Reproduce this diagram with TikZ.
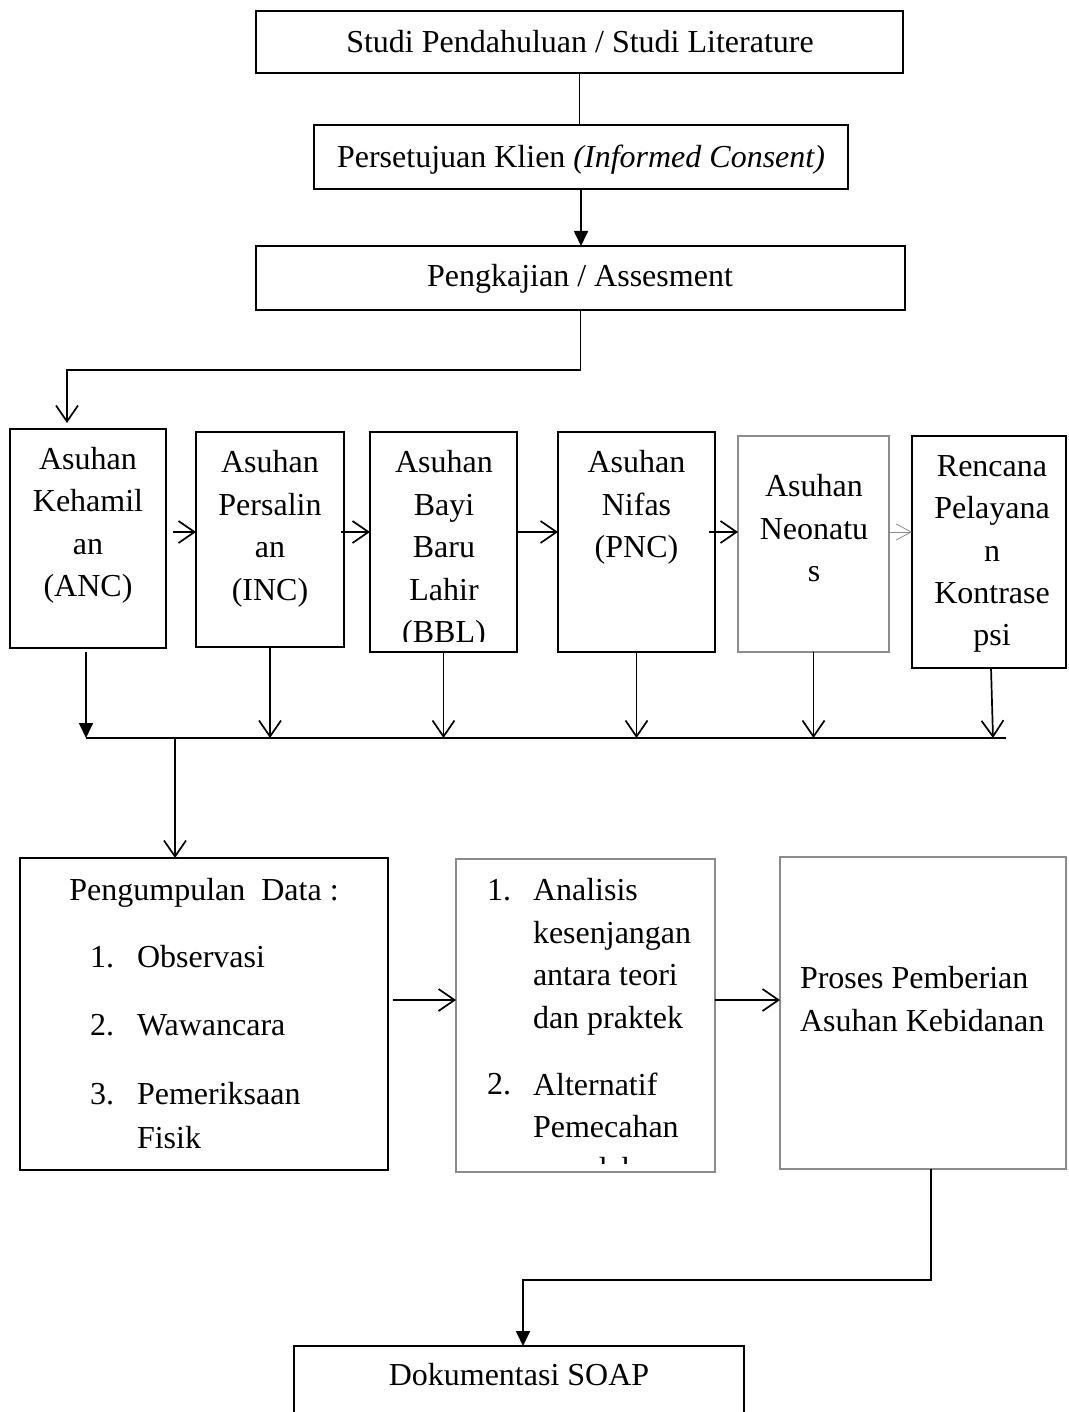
\documentclass[tikz,border=0pt]{standalone}
\usepackage{fontspec}
\setmainfont{Liberation Serif}
\usetikzlibrary{arrows.meta}
\begin{document}
\begin{tikzpicture}[x=1pt,y=-1pt,
  box/.style={draw, line width=2pt, inner sep=0pt, outer sep=0pt},
  gbox/.style={draw=black!45, line width=1.2pt, inner sep=0pt, outer sep=0pt},
  tx/.style={inner sep=0pt, outer sep=0pt, align=center, font=\fontsize{32}{42.4}\selectfont},
  txl/.style={tx, align=left},
  oarrow/.style={line width=1.7pt, -{Straight Barb[length=16pt,width=22pt,line width=1.7pt]}},
  garrow/.style={line width=0.8pt, draw=black!45, -{Straight Barb[length=15pt,width=16pt,line width=0.8pt]}},
  farrow/.style={line width=1.7pt, -{Triangle[length=15pt,width=14pt]}},
  plain/.style={line width=1.7pt}
]
\useasboundingbox (0,0) rectangle (1068,1412);
\begin{scope}
\clip (0,0) rectangle (1068,1412);

% top boxes
\node[box, minimum width=647pt, minimum height=62pt] (s1) at (579.5,42) {};
\node[tx, anchor=base] (t1) at (580,52.6) {Studi Pendahuluan / Studi Literature};
\node[box, minimum width=534pt, minimum height=64pt] (s2) at (581,157) {};
\node[tx, anchor=base] (t2) at (581,167.6) {Persetujuan Klien {\itshape (Informed Consent)}};
\node[box, minimum width=649pt, minimum height=64pt] (s3) at (580.5,278) {};
\node[tx, anchor=base] (t3) at (580,286.6) {Pengkajian / Assesment};

% row of care boxes
\node[box, minimum width=156pt, minimum height=219pt] (b1) at (88,538.5) {};
\node[tx, anchor=north] (tb1) at (88,447) {Asuhan\\Kehamil\\an\\(ANC)};
\node[box, minimum width=148pt, minimum height=215pt] (b2) at (270,539.5) {};
\node[tx, anchor=north] (tb2) at (270,450.6) {Asuhan\\Persalin\\an\\(INC)};
\node[box, minimum width=147pt, minimum height=220pt] (b3) at (443.5,542) {};
\begin{scope}
\clip (370,432) rectangle (517,641);
\node[tx, anchor=north] (tb3) at (444,450.6) {Asuhan\\Bayi\\Baru\\Lahir\\(BBL)};
\end{scope}
\node[box, minimum width=157pt, minimum height=220pt] (b4) at (636.5,542) {};
\node[tx, anchor=north] (tb4) at (636.5,450.6) {Asuhan\\Nifas\\(PNC)};
\node[gbox, minimum width=151pt, minimum height=216pt] (b5) at (813.5,544) {};
\node[tx, anchor=north] (tb5) at (814,474.6) {Asuhan\\Neonatu\\s};
\node[box, minimum width=154pt, minimum height=232pt] (b6) at (989,552) {};
\node[tx, anchor=north] (tb6) at (992,455.4) {Rencana\\Pelayana\\n\\Kontrase\\psi};

% bottom boxes
\node[box, minimum width=368pt, minimum height=312pt] (d1) at (204,1014) {};
\node[tx, anchor=base] (td1) at (204,900.6) {Pengumpulan\ \ Data :};
\node[tx, anchor=base west] (n11) at (90,967.6) {1.};
\node[tx, anchor=base west] (i11) at (137,967.6) {Observasi};
\node[tx, anchor=base west] (n12) at (90,1035.6) {2.};
\node[tx, anchor=base west] (i12) at (137,1035.6) {Wawancara};
\node[tx, anchor=base west] (n13) at (90,1104.6) {3.};
\node[txl, anchor=north west] (i13) at (137,1082.6) {Pemeriksaan\\[1.6pt]Fisik};

\node[gbox, minimum width=259pt, minimum height=313pt] (d2) at (585.5,1015.5) {};
\begin{scope}
\clip (456,859) rectangle (715,1163);
\node[tx, anchor=base west] (n21) at (487,900.6) {1.};
\node[txl, anchor=north west] (i21) at (533,878.6) {Analisis\\kesenjangan\\antara teori\\dan praktek};
\node[tx, anchor=base west] (n22) at (487,1094.6) {2.};
\node[txl, anchor=north west] (i22) at (533,1072.6) {Alternatif\\Pemecahan\\masalah};
\end{scope}

\node[gbox, minimum width=286pt, minimum height=312pt] (d3) at (923,1013) {};
\node[txl, anchor=north west] (td3) at (800,966.6) {Proses Pemberian\\Asuhan Kebidanan};

\node[box, minimum width=450pt, minimum height=94pt] (soap) at (519,1393) {};
\node[tx, anchor=base] (tsoap) at (519,1385.6) {Dokumentasi SOAP};

% coordinates
\coordinate (k1) at (67,370);
\coordinate (r1) at (0,532);
\coordinate (busL) at (86,738);
\coordinate (busR) at (1006,738);
\coordinate (bj) at (175,738);
\coordinate (r2) at (0,1000);
\coordinate (k2) at (931,1280);

% connectors
\draw[plain] (s1.south) -- (s1.south |- s2.north);
\draw[farrow] (s2.south) -- (s2.south |- s3.north);
\draw[oarrow, shorten >=6pt] (s3.south) |- (k1) -- (k1 |- b1.north);

\draw[oarrow, shorten <=7pt] (b1.east |- r1) -- (b2.west |- r1);
\draw[oarrow, shorten <=-3pt] (b2.east |- r1) -- (b3.west |- r1);
\draw[oarrow] (b3.east |- r1) -- (b4.west |- r1);
\draw[oarrow, shorten <=-6pt] (b4.east |- r1) -- (b5.west |- r1);
\draw[garrow] (b5.east |- r1) -- (b6.west |- r1);

\draw[plain] (busL) -- (busR);
\draw[farrow, shorten <=4pt] (b1.south -| busL) -- (busL);
\draw[oarrow] (b2.south) -- (b2.south |- busL);
\draw[oarrow] (b3.south) -- (b3.south |- busL);
\draw[oarrow] (b4.south) -- (b4.south |- busL);
\draw[oarrow] (b5.south) -- (b5.south |- busL);
\draw[oarrow] ([xshift=2pt]b6.south) -- ([xshift=4pt]b6.south |- busL);
\draw[oarrow] (bj) -- (bj |- d1.north);

\draw[oarrow, shorten <=5pt] (d1.east |- r2) -- (d2.west |- r2);
\draw[oarrow] (d2.east |- r2) -- (d3.west |- r2);
\draw[farrow] (k2 |- d3.south) -- (k2) -| ([xshift=4pt]soap.north);
\end{scope}
\end{tikzpicture}
\end{document}
